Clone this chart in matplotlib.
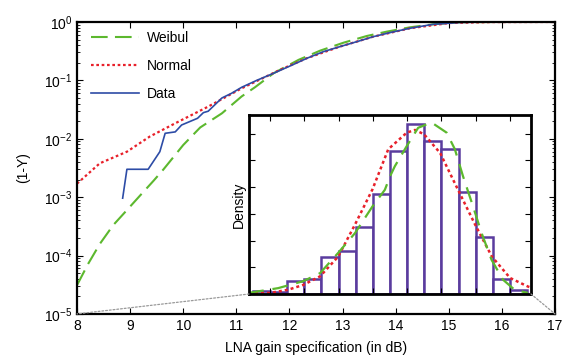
import numpy as np
import matplotlib
matplotlib.use("Agg")
from matplotlib import pyplot as plt
from matplotlib.patches import ConnectionPatch

plt.rcParams['font.family'] = ['Liberation Sans', 'DejaVu Sans']

# ---- main plot: tail probability (1-Y) vs gain ----
weib_x = [8.0, 8.21, 8.43, 8.68, 8.94, 9.19, 9.44, 9.63, 10.0, 10.32, 10.73,
          11.10, 11.35, 11.70, 12.17, 12.58, 13.02, 13.46, 13.83, 14.27, 14.70,
          15.21, 16.0, 17.0]
weib_y = [3.1e-5, 7.2e-5, 1.58e-4, 3.3e-4, 6.0e-4, 1.07e-3, 1.9e-3, 3.0e-3,
          7.8e-3, 1.56e-2, 2.73e-2, 5.3e-2, 7.6e-2, 0.132, 0.224, 0.323, 0.442,
          0.576, 0.682, 0.81, 0.91, 0.99, 1.0, 1.0]

norm_x = [8.0, 8.43, 8.94, 9.37, 9.85, 10.47, 11.10, 11.82, 12.33, 12.95, 13.58,
          14.27, 15.02, 15.8, 17.0]
norm_y = [1.7e-3, 3.8e-3, 6.0e-3, 1.09e-2, 1.84e-2, 3.55e-2, 7.3e-2, 0.151, 0.24,
          0.378, 0.56, 0.78, 0.96, 0.995, 1.0]

data_x = [8.86, 8.94, 9.34, 9.56, 9.66, 9.85, 9.97, 10.27, 10.38, 10.47, 10.73,
          10.91, 11.10, 11.38, 11.70, 12.01, 12.33, 12.64, 12.95, 13.27, 13.58,
          13.89, 14.27, 14.70, 15.21, 15.7, 16.29]
data_y = [9.6e-4, 3.0e-3, 3.0e-3, 6.0e-3, 1.24e-2, 1.31e-2, 1.72e-2, 2.24e-2,
          2.8e-2, 2.96e-2, 5.0e-2, 6.0e-2, 7.6e-2, 9.95e-2, 0.132, 0.176, 0.239,
          0.31, 0.378, 0.46, 0.56, 0.656, 0.78, 0.91, 0.98, 0.997, 1.0]

# ---- inset: histogram + fitted pdfs ----
bin_edges = [9.5, 10.0, 10.5, 11.0, 11.5, 12.0, 12.5, 13.0, 13.5, 14.0, 14.5,
             15.0, 15.5, 16.0, 16.5, 17.0, 17.5]
density = [0.005, 0.003, 0.024, 0.029, 0.070, 0.080, 0.126, 0.188, 0.267, 0.318,
           0.286, 0.271, 0.190, 0.107, 0.028, 0.0075]

pdf_norm_x = [9.39, 10.0, 10.53, 10.97, 11.46, 11.99, 12.48, 12.99, 13.45, 13.99,
              14.23, 14.49, 14.96, 15.49, 15.98, 16.47, 17.0, 17.52, 17.61]
pdf_norm_y = [0.001, 0.002, 0.008, 0.017, 0.033, 0.070, 0.130, 0.196, 0.271, 0.302,
              0.307, 0.299, 0.264, 0.194, 0.130, 0.070, 0.030, 0.014, 0.012]

pdf_weib_x = [9.37, 10.24, 10.97, 11.46, 11.99, 12.48, 12.99, 13.35, 13.50, 13.64,
              13.99, 14.32, 14.71, 15.15, 15.39, 15.63, 15.92, 16.17, 16.46, 16.79,
              17.13, 17.52]
pdf_weib_y = [0.002, 0.011, 0.024, 0.039, 0.077, 0.114, 0.164, 0.195, 0.220, 0.239,
              0.277, 0.311, 0.321, 0.302, 0.271, 0.220, 0.164, 0.114, 0.064, 0.027,
              0.008, 0.002]

green = '#5cb82e'
red = '#e8202a'
blue = '#2d4ca6'
purple = '#5a3c9e'

fig = plt.figure(figsize=(5.64, 3.6), dpi=100)
ax = fig.add_axes([0.1365, 0.128, 0.8475, 0.811])

ax.plot(weib_x, weib_y, color=green, lw=1.5, dashes=(8, 3.5), label='Weibul')
ax.plot(norm_x, norm_y, color=red, lw=1.6, dashes=(1.2, 1.2), label='Normal')
ax.plot(data_x, data_y, color=blue, lw=1.2, label='Data')

ax.set_yscale('log')
ax.set_xlim(8, 17)
ax.set_ylim(1e-5, 1)
ax.set_xticks(range(8, 18))
ax.set_yticks([1e-5, 1e-4, 1e-3, 1e-2, 1e-1, 1])
ax.tick_params(which='both', direction='in', top=True, right=True, labelsize=10)
ax.tick_params(which='major', length=4)
ax.tick_params(which='minor', length=2)
for s in ax.spines.values():
    s.set_linewidth(1.6)
ax.set_xlabel('LNA gain specification (in dB)', fontsize=10, labelpad=6)
ax.set_ylabel('(1-Y)', fontsize=10, labelpad=10)

leg = ax.legend(loc='upper left', frameon=False, fontsize=10, handlelength=3.4,
                handletextpad=0.6, labelspacing=1.0, bbox_to_anchor=(0.004, 1.012))

ins = fig.add_axes([0.4415, 0.1833, 0.5, 0.4973])
ins.hist(bin_edges[:-1], bins=bin_edges, weights=density, histtype='bar',
         facecolor='white', edgecolor=purple, linewidth=1.8)
ins.plot(pdf_norm_x, pdf_norm_y, color=red, lw=1.8, dashes=(1.2, 1.2))
ins.plot(pdf_weib_x, pdf_weib_y, color=green, lw=1.6, dashes=(7, 4))
ins.set_xlim(9.39, 17.61)
ins.set_ylim(0, 0.335)
ins.set_xticks(range(10, 18))
ins.set_yticks(np.arange(0, 0.33, 0.05))
ins.tick_params(direction='in', top=True, right=True, labelleft=False,
                labelbottom=False, length=4)
for s in ins.spines.values():
    s.set_linewidth(2)
ins.set_ylabel('Density', fontsize=10, labelpad=2)

for xa, xb in [(9.39, 8), (17.61, 17)]:
    con = ConnectionPatch(xyA=(xa, 0), coordsA=ins.transData,
                          xyB=(xb, 1e-5), coordsB=ax.transData,
                          color='#999999', lw=0.9, linestyle=(0, (1.5, 1.5)))
    fig.add_artist(con)

fig.savefig('out.png', dpi=100)
